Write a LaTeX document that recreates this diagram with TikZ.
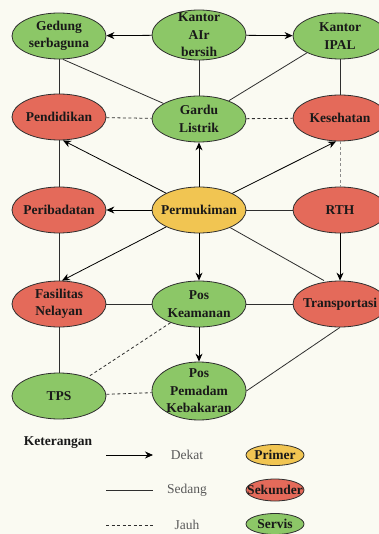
\documentclass[tikz,border=0pt]{standalone}
\usepackage{fontspec}
\setmainfont{Liberation Serif}
\usetikzlibrary{arrows.meta, positioning, shapes.geometric}
\definecolor{servis}{HTML}{8CC767}
\definecolor{sekunder}{HTML}{E46A5A}
\definecolor{primer}{HTML}{F1C552}
\definecolor{garis}{HTML}{2E2E2E}
\definecolor{latar}{HTML}{FAFAF2}

\begin{document}
\begin{tikzpicture}[x=1pt, y=-1pt,
        bubble/.style={draw=garis, line width=0.8pt, ellipse, minimum width=94pt, minimum height=46pt, inner sep=0pt},
        hijau/.style={bubble, fill=servis},
        merah/.style={bubble, fill=sekunder},
        kuning/.style={bubble, fill=primer},
        teks/.style={font=\bfseries\fontsize{13.5}{17.5}\selectfont, text=black!90, align=center, inner sep=0pt},
        keter/.style={font=\fontsize{13.5}{16}\selectfont, text=black!65, inner sep=0pt},
        dekat/.style={draw=black, line width=0.8pt, -{Stealth[length=8pt, width=7pt]}},
        sedang/.style={draw=garis, line width=0.8pt},
        jauh/.style={draw=garis, line width=0.8pt, dash pattern=on 3pt off 2.5pt}]
        % Keterkaitan antar fasilitas permukiman
        \path[use as bounding box, fill=latar] (0,0) rectangle (379,534);

        \node[hijau, label={[teks]center:{Gedung\\serbaguna}}] (ged) at (59,36) {};
        \node[hijau, minimum height=50pt, label={[teks]center:{Kantor\\AIr\\bersih}}] (air) at (199,35) {};
        \node[hijau, label={[teks]center:{Kantor\\IPAL}}] (ipal) at (340,36) {};

        \node[merah, label={[teks]center:Pendidikan}] (pend) at (59,117) {};
        \node[hijau, label={[teks]center:{Gardu\\Listrik}}] (gardu) at (199,119) {};
        \node[merah, label={[teks]center:Kesehatan}] (kes) at (340,118) {};

        \node[merah, label={[teks]center:Peribadatan}] (perib) at (59,210) {};
        \node[kuning, label={[teks]center:Permukiman}] (perm) at (199,210) {};
        \node[merah, label={[teks]center:RTH}] (rth) at (340,210) {};

        \node[merah, label={[teks]center:{Fasilitas\\Nelayan}}] (fas) at (59,304) {};
        \node[hijau, label={[teks]center:{Pos\\Keamanan}}] (keam) at (199,304) {};
        \node[merah, label={[teks]center:Transportasi}] (trans) at (340,304) {};

        \node[hijau, label={[teks]center:TPS}] (tps) at (59,396) {};
        \node[hijau, minimum height=58pt, label={[teks]center:{Pos\\Pemadam\\Kebakaran}}] (pem) at (199,391) {};

        \draw[dekat] (air) -- (ged);
        \draw[dekat] (air) -- (ipal);
        \draw[sedang] (ged) -- (pend);
        \draw[sedang] ([xshift=4pt]ged.south) -- (gardu);
        \draw[sedang] (air) -- (gardu);
        \draw[sedang] (ipal.207) -- (gardu);
        \draw[sedang] (ipal) -- (kes);
        \draw[jauh] (pend) -- (gardu);
        \draw[jauh] (gardu) -- (kes);
        \draw[jauh, draw=black!45] (kes) -- (rth);

        \draw[dekat] (perm) -- ([xshift=4pt]pend.south);
        \draw[dekat] (perm) -- (gardu);
        \draw[dekat] (perm) -- ([xshift=-4pt]kes.south);
        \draw[dekat] (perm) -- (perib);
        \draw[sedang] (perm) -- (rth);
        \draw[sedang] (perib) -- (pend);
        \draw[sedang] (perib) -- (fas);
        \draw[dekat] (perm) -- ([xshift=3pt]fas.north);
        \draw[dekat] (perm) -- (keam);
        \draw[sedang] (perm) -- ([xshift=-16pt]trans.north);
        \draw[dekat] (rth) -- (trans);

        \draw[sedang] (fas) -- (keam);
        \draw[sedang] (keam) -- (trans);
        \draw[sedang] (fas) -- (tps);
        \draw[jauh] (keam) -- (tps);
        \draw[dekat] (keam) -- (pem);
        \draw[jauh] (tps) -- (pem);
        \draw[sedang] (pem.east) -- (trans.south);

        % keterangan
        \node[teks] (ket) at (58,443) {Keterangan};
        \coordinate (d1) at (106,455);
        \coordinate (d2) at (153,455);
        \coordinate (s1) at (106,490);
        \coordinate (s2) at (153,490);
        \coordinate (j1) at (106,525);
        \coordinate (j2) at (153,525);
        \draw[dekat] (d1) -- (d2);
        \draw[sedang] (s1) -- (s2);
        \draw[jauh] (j1) -- (j2);
        \node[keter] (tdekat) at (187,455) {Dekat};
        \node[keter] (tsedang) at (187,490) {Sedang};
        \node[keter] (tjauh) at (187,525) {Jauh};
        \node[kuning, minimum width=58pt, minimum height=21pt, label={[teks]center:Primer}] (lprimer) at (275,455) {};
        \node[merah, minimum width=58pt, minimum height=22pt, label={[teks]center:Sekunder}] (lsekunder) at (275,490) {};
        \node[hijau, minimum width=58pt, minimum height=21pt, label={[teks]center:Servis}] (lservis) at (275,524) {};
\end{tikzpicture}
\end{document}
